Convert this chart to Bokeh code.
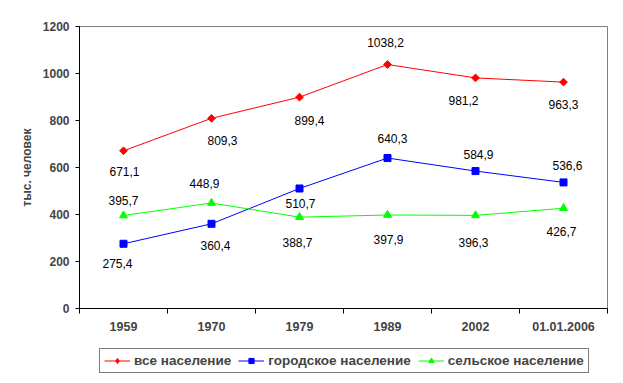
import numpy as np
from bokeh.plotting import figure
from bokeh.layouts import column
from bokeh.models import (ColumnDataSource, LabelSet, Legend, LegendItem,
                          FixedTicker, Range1d)
from bokeh.core.properties import value
from bokeh.embed import file_html
from bokeh.resources import INLINE

categories = ["1959", "1970", "1979", "1989", "2002", "01.01.2006"]
total = [671.1, 809.3, 899.4, 1038.2, 981.2, 963.3]
urban = [275.4, 360.4, 510.7, 640.3, 584.9, 536.6]
rural = [395.7, 448.9, 388.7, 397.9, 396.3, 426.7]
series_names = ["все население", "городское население", "сельское население"]
y_ticks = [0, 200, 400, 600, 800, 1000, 1200]
y_title = "тыс. человек"

# label offsets in screen pixels (dx right, dy up)
total_dx = [1, 11, 10, -2, -12, 0]
total_dy = [-21, -22, -23, 22, -23, -22]
urban_dx = [-6, 4, 1, 5, 3, 4]
urban_dy = [-20, -22, -15, 20, 17, 17]
rural_dx = [0, -7, -2, 1, -2, -2]
rural_dy = [15, 20, -25, -25, -27, -23]

FONT = "Liberation Sans"

p = figure(width=615, height=342, output_backend="svg", toolbar_location=None,
           x_range=Range1d(0, len(categories)), y_range=Range1d(0, 1200),
           min_border_left=79, min_border_right=8, min_border_top=26,
           min_border_bottom=34)
p.xgrid.visible = False
p.ygrid.visible = False
p.outline_line_color = "#808080"
p.background_fill_color = "white"
p.border_fill_color = "white"

# legend-only strip under the chart
lg = figure(width=615, height=33, output_backend="svg", toolbar_location=None,
            x_range=Range1d(0, 1), y_range=Range1d(0, 1),
            min_border_left=0, min_border_right=0, min_border_top=0,
            min_border_bottom=0)
lg.axis.visible = False
lg.xgrid.visible = False
lg.ygrid.visible = False
lg.outline_line_color = None
lg.border_fill_color = "white"

xs = np.arange(len(categories)) + 0.5

def fmt(v):
    return f"{v:.1f}".replace(".", ",")

# (values, color, marker, size, angle, legend marker, legend size, dx, dy)
styles = [
    (total, "#FF0000", "square", 5.5, np.pi / 4, "diamond", 10, total_dx, total_dy),
    (urban, "#0000FF", "square", 7, 0.0, "square", 7, urban_dx, urban_dy),
    (rural, "#00FF00", "triangle", 8, 0.0, "triangle", 8, rural_dx, rural_dy),
]
items = []
for (vals, color, marker, size, ang, lmarker, lsize, dx, dy), name in zip(styles, series_names):
    src = ColumnDataSource(dict(x=xs, y=vals, lab=[fmt(v) for v in vals],
                                dx=dx, dy=dy))
    p.line("x", "y", source=src, line_color=color, line_width=1)
    p.scatter("x", "y", source=src, marker=marker, size=size, angle=ang,
              fill_color=color, line_color=color)
    labels = LabelSet(x="x", y="y", text="lab", source=src, x_offset="dx",
                      y_offset="dy", text_align="center", text_baseline="middle",
                      text_font=value(FONT), text_font_size="12px",
                      text_color="black")
    p.add_layout(labels)
    # proxy glyphs for the legend strip (point kept outside the visible range)
    proxy = ColumnDataSource(dict(x=[-10, -11], y=[-10, -11]))
    ln2 = lg.line("x", "y", source=proxy, line_color=color, line_width=1)
    sc2 = lg.scatter("x", "y", source=proxy, marker=lmarker, size=lsize,
                     fill_color=color, line_color=color)
    items.append(LegendItem(label=name, renderers=[ln2, sc2], index=0))

# axes
p.yaxis.ticker = FixedTicker(ticks=y_ticks)
p.yaxis.major_tick_out = 4
p.yaxis.major_tick_in = 0
p.yaxis.minor_tick_line_color = None
p.yaxis.axis_line_color = "black"
p.yaxis.major_label_text_font = FONT
p.yaxis.major_label_text_font_style = "bold"
p.yaxis.major_label_text_font_size = "12px"
p.yaxis.major_label_standoff = 6
p.yaxis.axis_label = y_title
p.yaxis.axis_label_text_font = FONT
p.yaxis.axis_label_text_font_style = "bold"
p.yaxis.axis_label_text_font_size = "12px"
p.yaxis.axis_label_standoff = 6

p.xaxis.ticker = FixedTicker(ticks=list(xs), minor_ticks=list(range(len(categories) + 1)))
p.xaxis.major_label_overrides = {float(x): c for x, c in zip(xs, categories)}
p.xaxis.major_tick_line_color = None
p.xaxis.major_tick_out = 0
p.xaxis.major_tick_in = 0
p.xaxis.minor_tick_out = 5
p.xaxis.minor_tick_in = 0
p.xaxis.minor_tick_line_color = "black"
p.xaxis.axis_line_color = "black"
p.xaxis.major_label_text_font = FONT
p.xaxis.major_label_text_font_style = "bold"
p.xaxis.major_label_text_font_size = "12.5px"
p.xaxis.major_label_standoff = 8

legend = Legend(items=items, orientation="horizontal", location=(20, 2),
                border_line_color="black", border_line_width=1,
                background_fill_color="white", background_fill_alpha=1,
                label_text_font=FONT, label_text_font_style="bold",
                label_text_font_size="13.5px", glyph_width=26, glyph_height=13,
                label_height=13, label_width=10,
                padding=4, spacing=7, label_standoff=4, margin=0)
lg.add_layout(legend, "center")

open("out.html", "w").write(file_html(column(p, lg), INLINE))
